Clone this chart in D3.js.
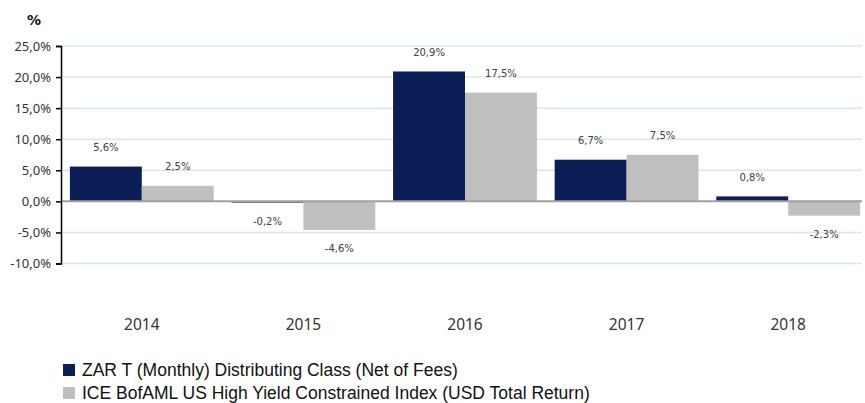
<!DOCTYPE html>
<html>
<head>
<meta charset="utf-8">
<script src="https://cdn.jsdelivr.net/npm/d3@7"></script>
<style>
  body { margin: 0; background: #fff; }
  svg { display: block; }
</style>
</head>
<body>
<svg id="chart"></svg>
<script>
const years = ["2014", "2015", "2016", "2017", "2018"];
const fundValues = [5.6, -0.2, 20.9, 6.7, 0.8];
const indexValues = [2.5, -4.6, 17.5, 7.5, -2.3];
const seriesNames = [
  "ZAR T (Monthly) Distributing Class (Net of Fees)",
  "ICE BofAML US High Yield Constrained Index (USD Total Return)"
];
const yTicks = [-10, -5, 0, 5, 10, 15, 20, 25];

const width = 865, height = 403;
const margin = { top: 46, right: 0, bottom: 139, left: 61 };
const colors = ["#0b1f56", "#bfbfbf"];
const fmt = v => v.toFixed(1).replace(".", ",") + "%";

const svg = d3.select("#chart")
  .attr("width", width)
  .attr("height", height);

const xScale = d3.scaleBand()
  .domain(years)
  .range([margin.left, 869])
  .paddingInner(0.11)
  .paddingOuter(0.055);

const xSub = d3.scaleBand()
  .domain([0, 1])
  .range([0, xScale.bandwidth()]);

const yScale = d3.scaleLinear()
  .domain([-10, 25])
  .range([263.5, margin.top]);

// Gridlines
svg.append("g")
  .selectAll("line")
  .data(yTicks.filter(d => d !== 0))
  .join("line")
  .attr("x1", margin.left)
  .attr("x2", 862)
  .attr("y1", d => yScale(d))
  .attr("y2", d => yScale(d))
  .attr("stroke", "#dce6f2")
  .attr("stroke-width", 1.5);

// Bars
const series = [fundValues, indexValues];
series.forEach((vals, i) => {
  svg.append("g")
    .selectAll("rect")
    .data(vals)
    .join("rect")
    .attr("x", (d, j) => xScale(years[j]) + xSub(i))
    .attr("width", xSub.bandwidth())
    .attr("y", d => yScale(Math.max(0, d)))
    .attr("height", d => Math.abs(yScale(d) - yScale(0)))
    .attr("fill", colors[i]);

  svg.append("g")
    .selectAll("text")
    .data(vals)
    .join("text")
    .attr("x", (d, j) => xScale(years[j]) + xSub(i) + xSub.bandwidth() / 2)
    .attr("y", d => d >= 0 ? yScale(d) - 19 : yScale(d) + 19)
    .attr("dy", "0.35em")
    .attr("text-anchor", "middle")
    .attr("font-family", "DejaVu Sans, sans-serif")
    .attr("font-size", 10)
    .attr("fill", "#404040")
    .text(d => fmt(d));
});

// Zero line
svg.append("line")
  .attr("x1", margin.left)
  .attr("x2", 862)
  .attr("y1", yScale(0))
  .attr("y2", yScale(0))
  .attr("stroke", "#a0a0a0")
  .attr("stroke-width", 2);

// Y axis
const yAxis = d3.axisLeft(yScale)
  .tickValues(yTicks)
  .tickSize(5)
  .tickFormat(d => fmt(d));

const yAxisGroup = svg.append("g")
  .attr("class", "y-axis")
  .attr("transform", `translate(${margin.left},0)`)
  .call(yAxis);

yAxisGroup.select(".domain").attr("stroke", "#000").attr("stroke-width", 1.5);
yAxisGroup.selectAll(".tick line").attr("stroke", "#000").attr("stroke-width", 1.5);
yAxisGroup.selectAll(".tick text")
  .attr("x", -10)
  .attr("font-family", "Noto Sans, sans-serif")
  .attr("font-size", 13)
  .attr("fill", "#333");

// Unit label
svg.append("text")
  .attr("x", 34)
  .attr("y", 25)
  .attr("text-anchor", "middle")
  .attr("font-family", "DejaVu Sans, sans-serif")
  .attr("font-weight", "bold")
  .attr("font-size", 14)
  .attr("fill", "#111")
  .text("%");

// X labels
svg.append("g")
  .selectAll("text")
  .data(years)
  .join("text")
  .attr("x", d => xScale(d) + xScale.bandwidth() / 2)
  .attr("y", 330)
  .attr("text-anchor", "middle")
  .attr("font-family", "Noto Sans, sans-serif")
  .attr("font-size", 15.5)
  .attr("fill", "#333")
  .text(d => d);

// Legend
const legend = svg.append("g")
  .selectAll("g")
  .data(seriesNames)
  .join("g")
  .attr("transform", (d, i) => `translate(63,${364 + i * 23})`);

legend.append("rect")
  .attr("width", 12)
  .attr("height", 12)
  .attr("fill", (d, i) => colors[i]);

legend.append("text")
  .attr("x", 19)
  .attr("y", 6)
  .attr("dy", "0.35em")
  .attr("font-family", "Liberation Sans Narrow, Liberation Sans, Arial, sans-serif")
  .attr("font-size", 17.5)
  .attr("fill", "#111")
  .text(d => d);
</script>
</body>
</html>
